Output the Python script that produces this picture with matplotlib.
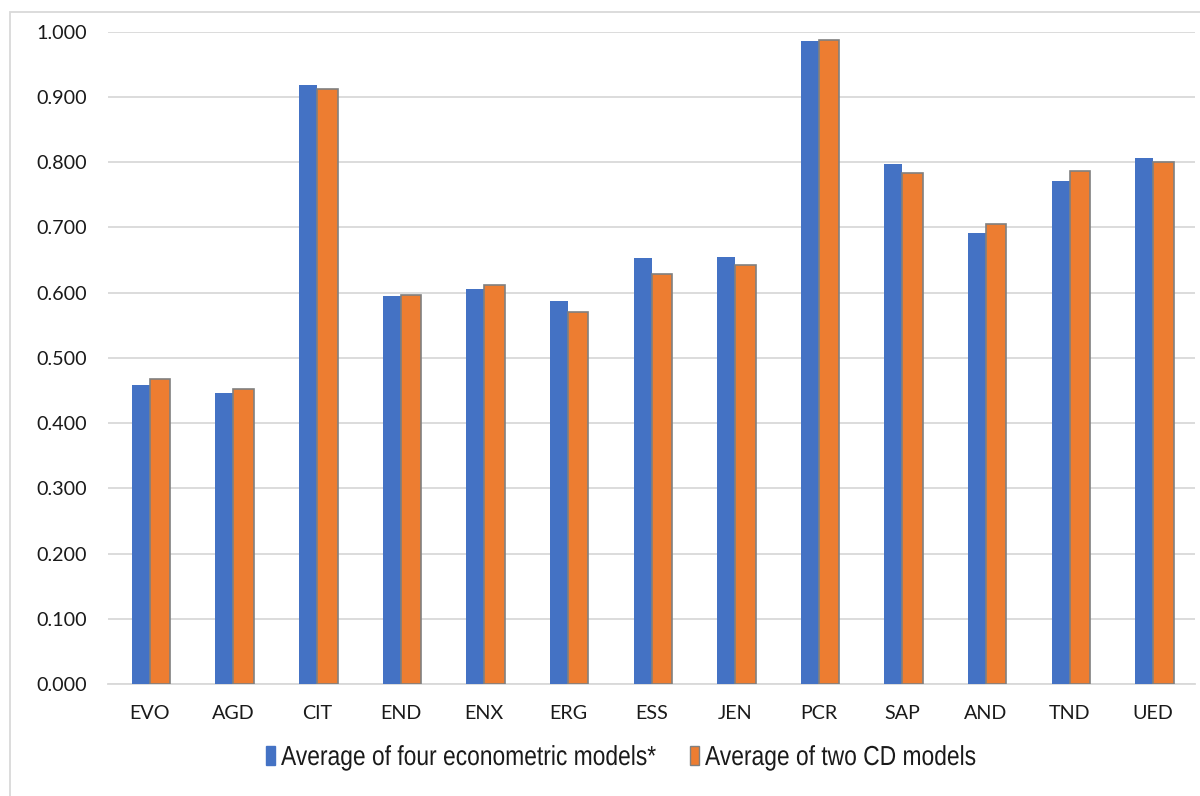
import numpy as np
import matplotlib.pyplot as plt
from matplotlib.patches import Rectangle, PathPatch
from matplotlib.textpath import TextPath
from matplotlib.font_manager import FontProperties
from matplotlib.transforms import Affine2D, IdentityTransform

# tickers and the two averaged scores
tickers = ['EVO', 'AGD', 'CIT', 'END', 'ENX', 'ERG', 'ESS', 'JEN', 'PCR', 'SAP', 'AND', 'TND', 'UED']
econ_avg = [0.459, 0.446, 0.918, 0.595, 0.605, 0.587, 0.653, 0.655, 0.986, 0.797, 0.691, 0.771, 0.807]
cd_avg = [0.468, 0.453, 0.912, 0.597, 0.611, 0.571, 0.629, 0.642, 0.988, 0.784, 0.705, 0.786, 0.801]
series_names = ['Average of four econometric models*', 'Average of two CD models']
yticks = np.arange(0, 1.01, 0.1)

BLUE = '#4472C4'
ORANGE = '#ED7D31'
GRID = '#d9d9d9'
W, H = 1200, 796

fig = plt.figure(figsize=(W/100, H/100), dpi=100)
ax = fig.add_axes([108/W, 1-684/H, (1195-108)/W, (684-31.7)/H])

x = np.arange(len(tickers))
ax.bar(x - 0.215, econ_avg, width=0.215, align='edge', color=BLUE, zorder=3)
ax.bar(x, cd_avg, width=0.245, align='edge', color=ORANGE, edgecolor='#808080',
       linewidth=1.2, zorder=3)

ax.set_xlim(-0.5, len(tickers) - 0.5)
ax.set_ylim(0, 1.0)
ax.set_yticks(yticks)
ax.set_yticklabels(['%.3f' % v for v in yticks])
ax.set_xticks(x)
ax.set_xticklabels(tickers)
ax.yaxis.grid(True, color=GRID, linewidth=1.3, zorder=0)
ax.set_axisbelow(True)
for s in ['top', 'right', 'left']:
    ax.spines[s].set_visible(False)
ax.spines['bottom'].set_color(GRID)
ax.spines['bottom'].set_linewidth(1.3)
ax.tick_params(axis='both', length=0, labelsize=14.2, labelcolor='#1a1a1a')
ax.tick_params(axis='y', pad=15)
ax.tick_params(axis='x', pad=15)
for lab in ax.get_xticklabels() + ax.get_yticklabels():
    lab.set_family('Lato')

# legend: narrow Arial-style text with thin swatches (pixel coords, origin bottom-left)
legend_font = FontProperties(family='Liberation Sans')
swatch_x = [266, 690]
text_x = [281, 705]
colors = [BLUE, ORANGE]
edges = [BLUE, '#808080']
base_y = H - 765
for name, sx, tx, c, ec in zip(series_names, swatch_x, text_x, colors, edges):
    fig.patches.append(Rectangle((sx, H - 765), 9, 19, transform=IdentityTransform(),
                                 facecolor=c, edgecolor=ec, linewidth=1.0))
    tp = TextPath((0, 0), name, size=27.5, prop=legend_font)
    squeeze = Affine2D().scale(0.83, 1.0).translate(tx, base_y)
    fig.patches.append(PathPatch(tp, transform=squeeze + IdentityTransform(),
                                 facecolor='#1a1a1a', edgecolor='none'))

# chart area border
fig.patches.append(Rectangle((10/W, -0.01), 1.2, 1-12/H+0.01, transform=fig.transFigure,
                             fill=False, edgecolor=GRID, linewidth=1.3))

fig.savefig('out.png', dpi=100)
